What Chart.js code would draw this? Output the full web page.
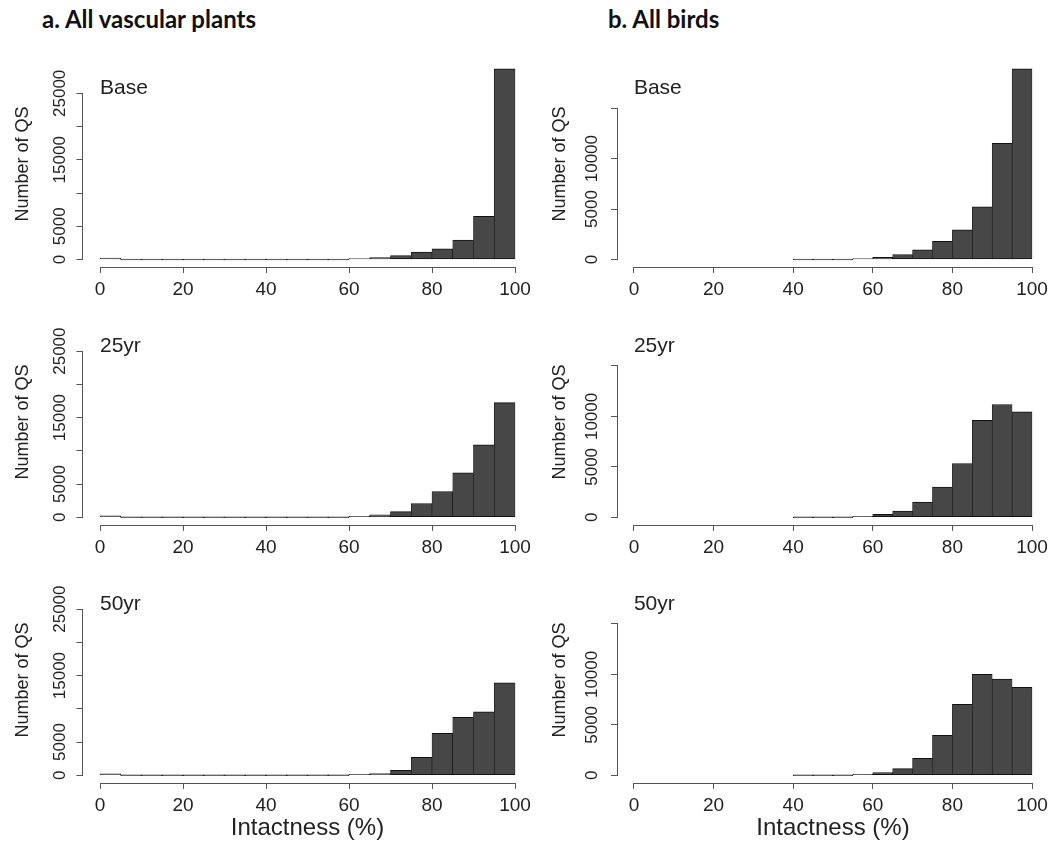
<!DOCTYPE html>
<html>
<head>
<meta charset="utf-8">
<script src="https://cdn.jsdelivr.net/npm/chart.js@4.4.1/dist/chart.umd.min.js"></script>
<style>
  body { margin: 0; background: #fff; width: 1053px; height: 843px; position: relative; overflow: hidden; }
  canvas { position: absolute; }
  .head { position: absolute; top: 7px; font: bold 24px Lato, "Open Sans", sans-serif; line-height: 1; color: #111; }
</style>
</head>
<body>
<div class="head" style="left:42px">a. All vascular plants</div>
<div class="head" style="left:608px">b. All birds</div>

<canvas id="plants0" width="540" height="270" style="left:0;top:40px"></canvas>
<canvas id="plants1" width="540" height="268" style="left:0;top:298px"></canvas>
<canvas id="plants2" width="540" height="283" style="left:0;top:560px"></canvas>
<canvas id="birds0" width="513" height="270" style="left:540px;top:40px"></canvas>
<canvas id="birds1" width="513" height="268" style="left:540px;top:298px"></canvas>
<canvas id="birds2" width="513" height="283" style="left:540px;top:560px"></canvas>

<script>
// --- data (counts of QS per 5% intactness bin) ---
const periods = ["Base", "25yr", "50yr"];

const plantBins = [0, 5, 10, 15, 20, 25, 30, 35, 40, 45, 50, 55, 60, 65, 70, 75, 80, 85, 90, 95];
const plantsBase = [200, 0, 0, 0, 0, 0, 0, 0, 0, 0, 0, 0, 100, 300, 600, 1100, 1600, 2900, 6500, 28700];
const plants25yr = [200, 0, 0, 0, 0, 0, 0, 0, 0, 0, 0, 0, 100, 350, 850, 2070, 3880, 6700, 10890, 17240];
const plants50yr = [200, 0, 0, 0, 0, 0, 0, 0, 0, 0, 0, 0, 100, 250, 750, 2710, 6320, 8730, 9540, 13900];

const birdBins = [40, 45, 50, 55, 60, 65, 70, 75, 80, 85, 90, 95];
const birdsBase = [0, 0, 0, 50, 200, 490, 950, 1810, 2930, 5230, 11510, 18910];
const birds25yr = [0, 0, 0, 100, 300, 625, 1510, 2990, 5330, 9600, 11180, 10460];
const birds50yr = [0, 0, 0, 70, 260, 660, 1680, 3950, 7040, 10000, 9540, 8720];

const binWidth = 5;
const xTicks = [0, 20, 40, 60, 80, 100];
const plantYTicks = [0, 5000, 10000, 15000, 20000, 25000];
const plantYLabels = ["0", "5000", "", "15000", "", "25000"];
const birdYTicks = [0, 5000, 10000, 15000];
const birdYLabels = ["0", "5000", "10000", ""];
const plantYMax = 28700;
const birdYMax = 18910;

Chart.defaults.font.family = "'Liberation Sans', Arial, sans-serif";
Chart.defaults.color = "#222";

// R-style axes: line only between first and last tick, panel label inside the plot
const rAxes = {
  id: "rAxes",
  afterDraw(chart, args, opts) {
    const { ctx, chartArea, scales: { x, y } } = chart;
    ctx.save();
    ctx.strokeStyle = "#555";
    ctx.lineWidth = 1;
    ctx.beginPath();
    const yb = Math.round(chartArea.bottom) + 0.5;
    ctx.moveTo(x.getPixelForValue(xTicks[0]), yb);
    ctx.lineTo(x.getPixelForValue(xTicks[xTicks.length - 1]), yb);
    const xl = Math.round(chartArea.left) - 0.5;
    ctx.moveTo(xl, y.getPixelForValue(opts.yTicks[0]));
    ctx.lineTo(xl, y.getPixelForValue(opts.yTicks[opts.yTicks.length - 1]));
    ctx.stroke();
    ctx.fillStyle = "#222";
    ctx.font = "21px 'Liberation Sans', Arial, sans-serif";
    ctx.textBaseline = "middle";
    ctx.fillText(opts.label, x.getPixelForValue(0), chartArea.top + 27);
    ctx.restore();
  }
};

function makePanel(id, bins, counts, label, yMax, yTicks, yLabels, yWidth, padRight, chartTop, chartBottom, canvasTop, canvasH, bottomRow, tickPad, titlePad) {
  const xHeight = bottomRow ? 59.8 : 40;
  new Chart(document.getElementById(id), {
    type: "bar",
    data: {
      datasets: [{
        data: bins.map((b, i) => ({ x: b + binWidth / 2, y: counts[i] })),
        backgroundColor: "#474747",
        borderColor: "#111",
        borderWidth: { top: 1, bottom: 1, left: 0.6, right: 0.6 },
        borderSkipped: false,
        minBarLength: 1,
        barPercentage: 1,
        categoryPercentage: 1
      }]
    },
    options: {
      responsive: false,
      animation: false,
      devicePixelRatio: 1,
      layout: {
        autoPadding: false,
        padding: { left: 0, right: padRight, top: chartTop - canvasTop, bottom: canvasH - (chartBottom - canvasTop) - xHeight }
      },
      plugins: {
        legend: { display: false },
        tooltip: { enabled: false },
        rAxes: { label, yTicks }
      },
      scales: {
        x: {
          type: "linear",
          min: -4, max: 104,
          offset: false,
          afterBuildTicks: s => { s.ticks = xTicks.map(v => ({ value: v })); },
          afterFit: s => { s.height = xHeight; },
          grid: { offset: false, drawOnChartArea: false, drawTicks: true, tickLength: 6, color: "#555" },
          border: { display: false },
          ticks: { autoSkip: false, maxRotation: 0, padding: 5, font: { size: 19 } },
          title: {
            display: bottomRow, text: "Intactness (%)",
            font: { size: 24 }, padding: { top: 0, bottom: 0 }
          }
        },
        y: {
          min: -0.04 * yMax, max: 1.04 * yMax,
          afterBuildTicks: s => { s.ticks = yTicks.map(v => ({ value: v })); },
          afterFit: s => { s.width = yWidth; },
          grid: { drawOnChartArea: false, drawTicks: true, tickLength: 7, color: "#555" },
          border: { display: false },
          ticks: {
            autoSkip: false, minRotation: 90, maxRotation: 90, crossAlign: "center",
            padding: tickPad, font: { size: 17 },
            callback: (v, i) => yLabels[i]
          },
          title: { display: true, text: "Number of QS", font: { size: 18 }, padding: { top: titlePad, bottom: 0 } }
        }
      }
    },
    plugins: [rAxes]
  });
}

const canvasTops = [40, 298, 560];
const canvasHeights = [270, 268, 283];
const zeroLines = [259.5, 517.3, 775.3];
const plantSeries = [plantsBase, plants25yr, plants50yr];
const birdSeries = [birdsBase, birds25yr, birds50yr];

periods.forEach((p, r) => {
  const top = zeroLines[r] - 198.4;
  const bottom = zeroLines[r] + 7.6;
  makePanel("plants" + r, plantBins, plantSeries[r], p, plantYMax, plantYTicks, plantYLabels,
    83.4, 8.4, top, bottom, canvasTops[r], canvasHeights[r], r === 2, -7.2, 12.2);
  makePanel("birds" + r, birdBins, birdSeries[r], p, birdYMax, birdYTicks, birdYLabels,
    78, 4, top, bottom, canvasTops[r], canvasHeights[r], r === 2, -5.1, 8.9);
});
</script>
</body>
</html>
